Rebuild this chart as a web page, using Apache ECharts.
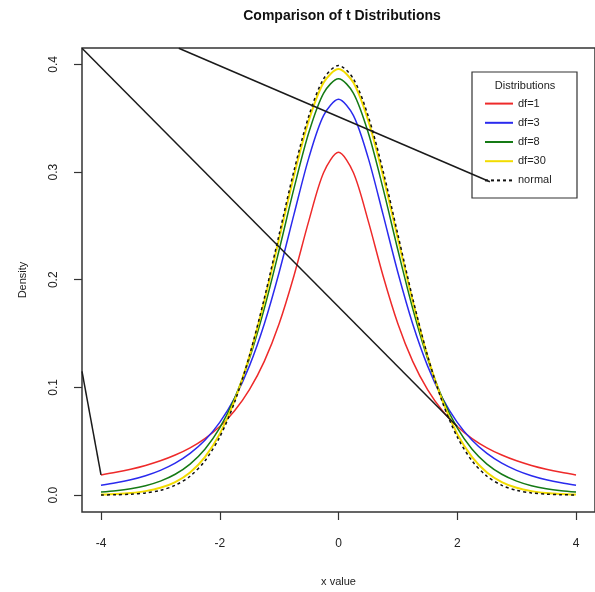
<!DOCTYPE html>
<html>
<head>
<meta charset="utf-8">
<script src="https://cdn.jsdelivr.net/npm/echarts@6/dist/echarts.min.js"></script>
<style>
html,body{margin:0;padding:0;background:#fff;}
#chart{width:595px;height:592px;}
</style>
</head>
<body>
<div id="chart"></div>
<script>
// x grid of the density curves
var xValues = [-4,-3.75,-3.5,-3.25,-3,-2.75,-2.5,-2.25,-2,-1.75,-1.5,-1.25,-1,-0.75,-0.5,-0.25,0,0.25,0.5,0.75,1,1.25,1.5,1.75,2,2.25,2.5,2.75,3,3.25,3.5,3.75,4];
var df1 = [0.01872,0.02113,0.02402,0.02753,0.03183,0.03718,0.04390,0.05251,0.06366,0.07835,0.09794,0.12422,0.15915,0.20372,0.25465,0.29959,0.31831,0.29959,0.25465,0.20372,0.15915,0.12422,0.09794,0.07835,0.06366,0.05251,0.04390,0.03718,0.03183,0.02753,0.02402,0.02113,0.01872];
var df3 = [0.00916,0.01136,0.01422,0.01798,0.02297,0.02965,0.03866,0.05089,0.06751,0.09000,0.12002,0.15891,0.20675,0.26064,0.31318,0.35270,0.36755,0.35270,0.31318,0.26064,0.20675,0.15891,0.12002,0.09000,0.06751,0.05089,0.03866,0.02965,0.02297,0.01798,0.01422,0.01136,0.00916];
var df8 = [0.00276,0.00403,0.00592,0.00876,0.01301,0.01937,0.02878,0.04257,0.06237,0.08993,0.12677,0.17326,0.22761,0.28481,0.33670,0.37339,0.38670,0.37339,0.33670,0.28481,0.22761,0.17326,0.12677,0.08993,0.06237,0.04257,0.02878,0.01937,0.01301,0.00876,0.00592,0.00403,0.00276];
var df30 = [0.00052,0.00102,0.00196,0.00369,0.00678,0.01214,0.02106,0.03528,0.05685,0.08764,0.12896,0.18009,0.23799,0.29664,0.34788,0.38307,0.39563,0.38307,0.34788,0.29664,0.23799,0.18009,0.12896,0.08764,0.05685,0.03528,0.02106,0.01214,0.00678,0.00369,0.00196,0.00102,0.00052];
var normal = [0.00013,0.00035,0.00087,0.00203,0.00443,0.00909,0.01753,0.03174,0.05399,0.08628,0.12952,0.18265,0.24197,0.30114,0.35207,0.38667,0.39894,0.38667,0.35207,0.30114,0.24197,0.18265,0.12952,0.08628,0.05399,0.03174,0.01753,0.00909,0.00443,0.00203,0.00087,0.00035,0.00013];
// stray black line segments seen in the picture (data coordinates)
var strayA = [[-4.32,0.415],[2.0,0.0637]];
var strayB = [[-2.69,0.415],[2.55,0.291]];
var strayC = [[-4.32,0.115],[-4.0,0.0187]];
var seriesNames = ['df=1','df=3','df=8','df=30','normal'];
var xTicks = [-4,-2,0,2,4];
var yTicks = [0,0.1,0.2,0.3,0.4];

function pairs(ys){ return xValues.map(function(x,i){ return [x, ys[i]]; }); }

var FONT = 'Liberation Sans, Arial, sans-serif';
var chart = echarts.init(document.getElementById('chart'));
var colors = ['#ee2a2a','#2a2aee','#157a15','#f2dc00','#111111'];
var curves = [df1, df3, df8, df30, normal];
var series = curves.map(function(c,i){
  return {
    name: seriesNames[i], type:'line', data: pairs(c), symbol:'none', smooth:0.3,
    lineStyle:{color:colors[i], width: i===3 ? 2 : 1.5, type: i===4 ? [3,3] : 'solid'},
    itemStyle:{color:colors[i]}, z: 2+i
  };
});
[strayA, strayB, strayC].forEach(function(d){
  series.push({type:'line', data:d, symbol:'none', silent:true,
    lineStyle:{color:'#1a1a1a', width:1.5}, z:10});
});

chart.setOption({
  animation:false,
  backgroundColor:'#fff',
  grid:{left:82, top:48, width:520, height:467, show:true, borderColor:'#333', borderWidth:1.5, backgroundColor:'transparent'},
  xAxis:{type:'value', min:-4.32, max:4.32,
    name:'x value', nameLocation:'middle', nameGap:64,
    nameTextStyle:{fontFamily:FONT, fontSize:11, color:'#222'},
    axisLine:{show:false, onZero:false}, splitLine:{show:false},
    axisTick:{show:true, inside:false, length:8, customValues:xTicks, lineStyle:{color:'#333', width:1.2}},
    axisLabel:{customValues:xTicks, margin:26, fontFamily:FONT, fontSize:12, color:'#222'}
  },
  yAxis:{type:'value', min:-0.0157, max:0.4152,
    name:'Density', nameLocation:'middle', nameGap:54,
    nameTextStyle:{fontFamily:FONT, fontSize:11, color:'#222'},
    axisLine:{show:false, onZero:false}, splitLine:{show:false},
    axisTick:{show:true, inside:false, length:8, customValues:yTicks, lineStyle:{color:'#333', width:1.2}},
    axisLabel:{customValues:yTicks, rotate:90, margin:22, fontFamily:FONT, fontSize:12, color:'#222',
      formatter:function(v){ return v.toFixed(1); }}
  },
  legend:{data:seriesNames, orient:'vertical', left:484, top:98, itemWidth:28, itemHeight:14, itemGap:8,
    itemStyle:{opacity:0},
    textStyle:{fontFamily:FONT, fontSize:11, color:'#222'}, padding:0},
  graphic:[
    {type:'text', x:342, y:16, style:{text:'Comparison of t Distributions', font:'bold 14px '+FONT, fill:'#111', textAlign:'center', textVerticalAlign:'middle'}},
    {type:'rect', shape:{x:472, y:72, width:105, height:126}, style:{fill:'none', stroke:'#333', lineWidth:1.2}},
    {type:'text', x:525, y:86, style:{text:'Distributions', font:'11px '+FONT, fill:'#222', textAlign:'center', textVerticalAlign:'middle'}}
  ],
  series:series
});
</script>
</body>
</html>
